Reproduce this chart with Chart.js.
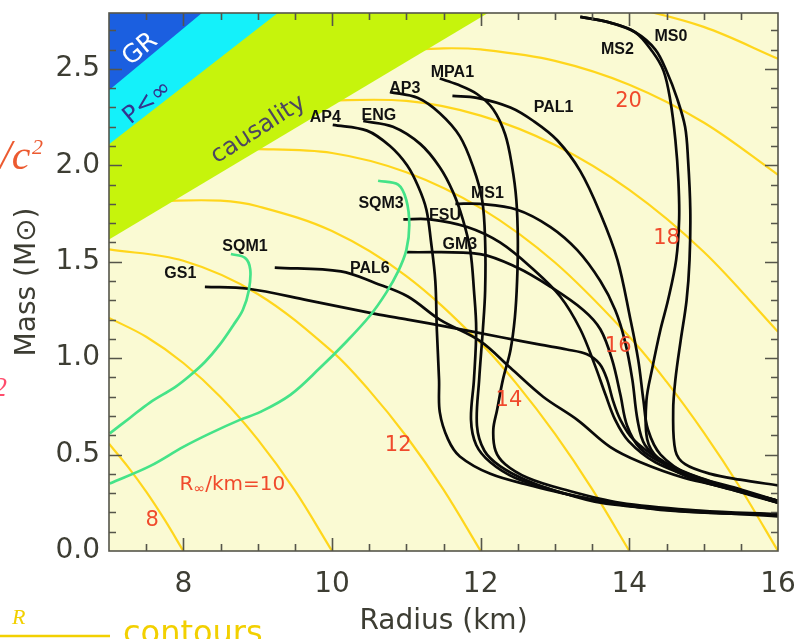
<!DOCTYPE html>
<html>
<head>
<meta charset="utf-8">
<script src="https://cdn.jsdelivr.net/npm/chart.js@4.4.1/dist/chart.umd.min.js"></script>
<style>
  html, body { margin: 0; padding: 0; background: #ffffff; }
  canvas { display: block; }
</style>
</head>
<body>
<canvas id="mr" width="796" height="639"></canvas>
<script>
// Axis tick labels
const xTicks = [8, 10, 12, 14, 16];
const yTicks = [0, 0.5, 1.0, 1.5, 2.0, 2.5];

// Excluded regions: lower boundary of each band, [radius km, mass Msun]
const bandGR = [[7, 2.39], [8.25, 2.79]];
const bandPinf = [[7, 2.11], [9.27, 2.79]];
const bandCausal = [[7, 1.615], [12.1, 2.79]];

// Contours of constant radiation radius R_inf (km)
const rinf8 = [[7, 0.556], [7.25, 0.439], [7.5, 0.308], [7.75, 0.161], [8, 0]];
const rinf10 = [[7, 1.209], [7.5, 1.111], [8, 0.975], [8.5, 0.799], [9, 0.579], [9.5, 0.314], [10, 0]];
const rinf12 = [[7, 1.564], [8, 1.505], [9, 1.333], [10, 1.035], [10.5, 0.833], [11, 0.595], [11.5, 0.318], [12, 0]];
const rinf14 = [[7.6, 1.815], [8.5, 1.817], [9, 1.788], [10, 1.659], [11, 1.426], [12, 1.078], [12.5, 0.859], [13, 0.607], [13.5, 0.321], [14, 0]];
const rinf16 = [[8.7, 2.075], [9, 2.084], [10, 2.064], [11, 1.964], [12, 1.778], [13, 1.496], [14, 1.111], [14.5, 0.878], [15, 0.615], [15.5, 0.323], [16, 0]];
const rinf18 = [[9.8, 2.335], [11, 2.334], [12, 2.258], [13, 2.106], [14, 1.873], [15, 1.552], [16, 1.137]];
const rinf20 = [[10.9, 2.595], [11.5, 2.607], [12, 2.601], [13, 2.542], [14, 2.418], [15, 2.222], [16, 1.951]];
const rinf22 = [[13.5, 2.850], [14, 2.821], [15, 2.718], [16, 2.553]];

// Mass-radius relations, [radius km, mass Msun]
const AP4 = [[10.01, 2.21], [10.47, 2.18], [10.78, 2.10], [11.01, 2.00], [11.16, 1.89], [11.27, 1.77], [11.33, 1.61], [11.39, 1.40], [11.41, 1.15], [11.44, 0.89], [11.45, 0.72], [11.56, 0.58], [11.72, 0.49], [12.13, 0.40], [12.67, 0.34], [13.34, 0.28], [14.51, 0.21], [16.0, 0.19]];
const ENG = [[10.42, 2.23], [10.82, 2.20], [11.19, 2.11], [11.45, 1.99], [11.63, 1.86], [11.76, 1.72], [11.86, 1.56], [11.91, 1.35], [11.94, 1.15], [11.91, 0.89], [11.87, 0.68], [11.94, 0.55], [12.13, 0.46], [12.46, 0.38], [12.94, 0.32], [13.61, 0.25], [14.69, 0.21], [16.0, 0.18]];
const AP3 = [[10.78, 2.38], [11.15, 2.35], [11.45, 2.27], [11.72, 2.15], [11.90, 1.99], [12.02, 1.82], [12.06, 1.61], [12.06, 1.35], [12.03, 1.15], [11.98, 0.89], [11.95, 0.65], [12.05, 0.52], [12.26, 0.44], [12.60, 0.37], [13.11, 0.30], [13.88, 0.24], [14.95, 0.20], [16.0, 0.19]];
const MPA1 = [[11.45, 2.45], [11.68, 2.42], [11.95, 2.37], [12.17, 2.29], [12.33, 2.16], [12.42, 2.00], [12.48, 1.82], [12.50, 1.61], [12.49, 1.40], [12.46, 1.21], [12.40, 1.04], [12.30, 0.89], [12.22, 0.73], [12.17, 0.63], [12.20, 0.52], [12.33, 0.45], [12.63, 0.38], [13.11, 0.32], [13.88, 0.25], [14.95, 0.21], [16.0, 0.19]];
const PAL1 = [[11.62, 2.36], [11.95, 2.35], [12.40, 2.30], [12.71, 2.23], [13.03, 2.13], [13.34, 1.97], [13.61, 1.75], [13.84, 1.51], [14.01, 1.21], [14.12, 0.99], [14.19, 0.78], [14.25, 0.63], [14.42, 0.50], [14.82, 0.39], [15.36, 0.32], [16.0, 0.26]];
const MS0 = [[13.34, 2.77], [13.74, 2.74], [14.08, 2.69], [14.35, 2.60], [14.51, 2.48], [14.64, 2.35], [14.75, 2.20], [14.79, 2.03], [14.82, 1.77], [14.81, 1.51], [14.77, 1.30], [14.69, 1.09], [14.62, 0.89], [14.59, 0.73], [14.62, 0.52], [14.75, 0.45], [15.09, 0.40], [15.49, 0.37], [16.0, 0.34]];
const MS2 = [[13.34, 2.77], [13.74, 2.74], [14.08, 2.69], [14.31, 2.59], [14.46, 2.49], [14.55, 2.34], [14.62, 2.13], [14.66, 1.92], [14.67, 1.72], [14.63, 1.51], [14.52, 1.30], [14.42, 1.15], [14.31, 0.95], [14.23, 0.78], [14.24, 0.58], [14.39, 0.48], [14.75, 0.39], [15.36, 0.32], [16.0, 0.25]];
const MS1 = [[11.66, 1.80], [11.99, 1.80], [12.49, 1.77], [12.94, 1.68], [13.30, 1.56], [13.61, 1.40], [13.81, 1.25], [13.94, 1.09], [14.04, 0.89], [14.11, 0.68], [14.21, 0.55], [14.48, 0.46], [14.95, 0.38], [15.49, 0.32], [16.0, 0.26]];
const GM3 = [[11.01, 1.55], [11.99, 1.54], [12.49, 1.47], [12.94, 1.37], [13.38, 1.25], [13.61, 1.15], [13.77, 0.99], [13.88, 0.81], [13.97, 0.65], [14.15, 0.53], [14.48, 0.45], [15.09, 0.36], [16.0, 0.26]];
const FSU = [[10.96, 1.72], [11.32, 1.72], [11.82, 1.68], [12.26, 1.60], [12.71, 1.46], [13.07, 1.32], [13.34, 1.15], [13.54, 0.96], [13.68, 0.81], [13.81, 0.68], [13.99, 0.57], [14.35, 0.46], [14.95, 0.37], [16.0, 0.26]];
const GS1 = [[8.29, 1.37], [8.87, 1.36], [9.68, 1.30], [10.58, 1.23], [11.02, 1.20], [11.59, 1.16], [12.26, 1.11], [12.80, 1.07], [13.16, 1.045], [13.43, 1.02], [13.60, 0.97], [13.70, 0.89], [13.78, 0.78], [13.88, 0.68], [14.05, 0.58], [14.42, 0.47], [14.86, 0.38], [15.49, 0.31], [16.0, 0.25]];
const PAL6 = [[9.23, 1.47], [10.12, 1.45], [10.58, 1.39], [11.02, 1.32], [11.45, 1.20], [11.99, 1.09], [12.40, 0.95], [12.84, 0.80], [13.30, 0.68], [13.74, 0.54], [14.15, 0.46], [14.73, 0.38], [15.40, 0.32], [16.0, 0.25]];
// Strange quark matter stars
const SQM1 = [[8.64, 1.54], [8.83, 1.52], [8.90, 1.46], [8.88, 1.35], [8.80, 1.25], [8.67, 1.17], [8.49, 1.07], [8.29, 0.98], [8.09, 0.91], [7.89, 0.85], [7.55, 0.77], [7.28, 0.69], [7.01, 0.61]];
const SQM3 = [[10.62, 1.92], [10.89, 1.90], [11.00, 1.82], [11.04, 1.69], [11.00, 1.56], [10.89, 1.45], [10.73, 1.34], [10.51, 1.22], [10.18, 1.08], [9.84, 0.95], [9.44, 0.81], [9.03, 0.72], [8.76, 0.68], [8.36, 0.61], [8.00, 0.54], [7.55, 0.44], [7.01, 0.35]];

// Curve names and where they are written
const curveNames = [
  ['GS1', 7.96, 1.44], ['SQM1', 8.83, 1.58], ['SQM3', 10.66, 1.80], ['PAL6', 10.51, 1.466],
  ['AP4', 9.91, 2.25], ['ENG', 10.63, 2.26], ['AP3', 10.98, 2.40], ['MPA1', 11.62, 2.48],
  ['MS1', 12.09, 1.855], ['FSU', 11.52, 1.74], ['GM3', 11.72, 1.59], ['PAL1', 12.98, 2.30],
  ['MS2', 13.84, 2.60], ['MS0', 14.56, 2.67]
];
// Contour values and where they are written
const contourNames = [
  ['20', 13.99, 2.33], ['18', 14.50, 1.62], ['16', 13.85, 1.06], ['14', 12.38, 0.78],
  ['12', 10.89, 0.545], ['8', 7.58, 0.16]
];

const INK = '#3d3d33';
const BLACK = '#0a0a0a';
const GREEN = '#45e388';
const GOLD = '#ffd61c';
const RED = '#f04a2c';
const FONT = '"DejaVu Sans", sans-serif';

const xy = a => a.map(([x, y]) => ({ x, y }));

function curve(label, pts, color, width, order) {
  return {
    label, data: xy(pts), borderColor: color, borderWidth: width,
    pointRadius: 0, tension: 0.35, fill: false, order
  };
}
function band(label, pts, color, order) {
  return {
    label, data: xy(pts), borderColor: color, borderWidth: 0,
    backgroundColor: color, pointRadius: 0, tension: 0, fill: 'end', order
  };
}

const datasets = [
  band('GR', bandGR, '#1b5fe0', 0),
  band('P<inf', bandPinf, '#14f1fa', 1),
  band('causality', bandCausal, '#c6f40c', 2),
  curve('SQM1', SQM1, GREEN, 2.7, 3),
  curve('SQM3', SQM3, GREEN, 2.7, 3),
  curve('AP4', AP4, BLACK, 2.7, 4),
  curve('ENG', ENG, BLACK, 2.7, 4),
  curve('AP3', AP3, BLACK, 2.7, 4),
  curve('MPA1', MPA1, BLACK, 2.7, 4),
  curve('PAL1', PAL1, BLACK, 2.7, 4),
  curve('MS0', MS0, BLACK, 2.7, 4),
  curve('MS2', MS2, BLACK, 2.7, 4),
  curve('MS1', MS1, BLACK, 2.7, 4),
  curve('GM3', GM3, BLACK, 2.7, 4),
  curve('FSU', FSU, BLACK, 2.7, 4),
  curve('GS1', GS1, BLACK, 2.7, 4),
  curve('PAL6', PAL6, BLACK, 2.7, 4),
  curve('R8', rinf8, GOLD, 2.2, 5),
  curve('R10', rinf10, GOLD, 2.2, 5),
  curve('R12', rinf12, GOLD, 2.2, 5),
  curve('R14', rinf14, GOLD, 2.2, 5),
  curve('R16', rinf16, GOLD, 2.2, 5),
  curve('R18', rinf18, GOLD, 2.2, 5),
  curve('R20', rinf20, GOLD, 2.2, 5),
  curve('R22', rinf22, GOLD, 2.2, 5)
];

// Page background and the pale plot panel
const panel = {
  id: 'panel',
  beforeDraw(chart) {
    const { ctx, chartArea: a } = chart;
    ctx.save();
    ctx.fillStyle = '#ffffff';
    ctx.fillRect(0, 0, chart.width, chart.height);
    ctx.fillStyle = '#fafad3';
    ctx.fillRect(a.left, a.top, a.right - a.left, a.bottom - a.top);
    ctx.restore();
  }
};

function put(ctx, s, x, y, font, color, angle) {
  ctx.save();
  ctx.translate(x, y);
  if (angle) ctx.rotate(angle);
  ctx.font = font;
  ctx.fillStyle = color;
  ctx.textAlign = 'center';
  ctx.textBaseline = 'middle';
  ctx.fillText(s, 0, 0);
  ctx.restore();
}

// Frame, inward tick marks, and all annotations
const decor = {
  id: 'decor',
  afterDatasetsDraw(chart) {
    const { ctx, chartArea: a, scales: { x, y } } = chart;
    ctx.save();
    ctx.strokeStyle = '#55554a';
    ctx.lineWidth = 1.6;
    ctx.strokeRect(a.left, a.top, a.right - a.left, a.bottom - a.top);
    ctx.beginPath();
    for (let i = 1; i <= 27; i++) {
      const py = Math.round(y.getPixelForValue(i / 10)) + 0.5;
      const len = i % 5 === 0 ? 13 : 7;
      ctx.moveTo(a.left, py); ctx.lineTo(a.left + len, py);
      ctx.moveTo(a.right, py); ctx.lineTo(a.right - len, py);
    }
    for (let i = 15; i <= 31; i++) {
      const v = i / 2;
      const px = Math.round(x.getPixelForValue(v)) + 0.5;
      const len = (v % 2 === 0) ? 13 : 7;
      ctx.moveTo(px, a.bottom); ctx.lineTo(px, a.bottom - len);
      ctx.moveTo(px, a.top); ctx.lineTo(px, a.top + len);
    }
    ctx.stroke();
    ctx.restore();

    // band captions, turned along each boundary
    const slope = pts => {
      const dx = x.getPixelForValue(pts[1][0]) - x.getPixelForValue(pts[0][0]);
      const dy = y.getPixelForValue(pts[1][1]) - y.getPixelForValue(pts[0][1]);
      return Math.atan2(dy, dx);
    };
    put(ctx, 'GR', x.getPixelForValue(7.42), y.getPixelForValue(2.60), '25px ' + FONT, '#ffffff', slope(bandGR));
    put(ctx, 'P<\u221e', x.getPixelForValue(7.52), y.getPixelForValue(2.325), '24px ' + FONT, '#34348e', slope(bandPinf) - 0.03);
    put(ctx, 'causality', x.getPixelForValue(9.01), y.getPixelForValue(2.185), '24px ' + FONT, '#4c4660', slope(bandCausal) - 0.03);

    for (const [s, r, m] of curveNames) {
      put(ctx, s, x.getPixelForValue(r), y.getPixelForValue(m), 'bold 16px "Liberation Sans", Arial, sans-serif', '#111111', 0);
    }
    for (const [s, r, m] of contourNames) {
      put(ctx, s, x.getPixelForValue(r), y.getPixelForValue(m), '21px ' + FONT, RED, 0);
    }
    // R_inf/km=10 with a lowered infinity sign
    {
      const cx = x.getPixelForValue(8.66), cy = y.getPixelForValue(0.342);
      ctx.save();
      ctx.fillStyle = RED;
      ctx.textBaseline = 'middle';
      ctx.textAlign = 'left';
      const big = '20px ' + FONT, small = '14px ' + FONT;
      ctx.font = big; const w1 = ctx.measureText('R').width, w3 = ctx.measureText('/km=10').width;
      ctx.font = small; const w2 = ctx.measureText('\u221e').width;
      let px = cx - (w1 + w2 + w3) / 2;
      ctx.font = big; ctx.fillText('R', px, cy); px += w1;
      ctx.font = small; ctx.fillText('\u221e', px, cy + 4); px += w2;
      ctx.font = big; ctx.fillText('/km=10', px, cy);
      ctx.restore();
    }

    // fragments of neighbouring text at the page edges
    ctx.save();
    ctx.textAlign = 'left';
    ctx.textBaseline = 'alphabetic';
    ctx.fillStyle = '#ec5a30';
    ctx.font = 'italic 42px "Liberation Serif", serif';
    ctx.fillText('/c', 0, 169);
    ctx.font = 'italic 22px "Liberation Serif", serif';
    ctx.fillText('2', 32, 154);
    ctx.fillStyle = '#ff4c6c';
    ctx.font = 'italic 28px "Liberation Serif", serif';
    ctx.fillText('2', -7, 396);
    ctx.fillStyle = '#f2d000';
    ctx.font = 'italic 22px "Liberation Serif", serif';
    ctx.fillText('R', 12, 624);
    ctx.strokeStyle = '#f2d000';
    ctx.lineWidth = 2.5;
    ctx.beginPath(); ctx.moveTo(0, 636); ctx.lineTo(110, 636); ctx.stroke();
    ctx.font = '32px ' + FONT;
    ctx.fillText('contours', 123, 643);
    ctx.restore();
  }
};

new Chart(document.getElementById('mr'), {
  type: 'line',
  data: { datasets },
  options: {
    responsive: false,
    devicePixelRatio: 1,
    animation: false,
    events: [],
    layout: { padding: { left: 0, top: 13, right: 18, bottom: 0 } },
    plugins: { legend: { display: false }, tooltip: { enabled: false } },
    scales: {
      x: {
        type: 'linear', min: 7, max: 16,
        grid: { display: false, drawTicks: false },
        border: { display: false },
        ticks: { font: { family: FONT, size: 28 }, color: INK, padding: 17, maxRotation: 0, autoSkip: false },
        afterBuildTicks: s => { s.ticks = xTicks.map(v => ({ value: v })); },
        afterFit: s => { s.height = 88; s.paddingLeft = 0; s.paddingRight = 0; },
        title: { display: true, text: 'Radius (km)', font: { family: FONT, size: 28 }, color: INK, padding: { top: 0, bottom: 0 } }
      },
      y: {
        type: 'linear', min: 0, max: 2.79,
        grid: { display: false, drawTicks: false },
        border: { display: false },
        ticks: { font: { family: FONT, size: 28 }, color: INK, padding: 9, autoSkip: false, callback: v => v.toFixed(1) },
        afterBuildTicks: s => { s.ticks = yTicks.map(v => ({ value: v })); },
        afterFit: s => { s.width = 109; s.paddingTop = 0; s.paddingBottom = 0; },
        title: { display: true, text: 'Mass (M\u2299)', font: { family: FONT, size: 28 }, color: INK, padding: { top: 11, bottom: 0 } }
      }
    }
  },
  plugins: [panel, decor]
});
</script>
</body>
</html>
